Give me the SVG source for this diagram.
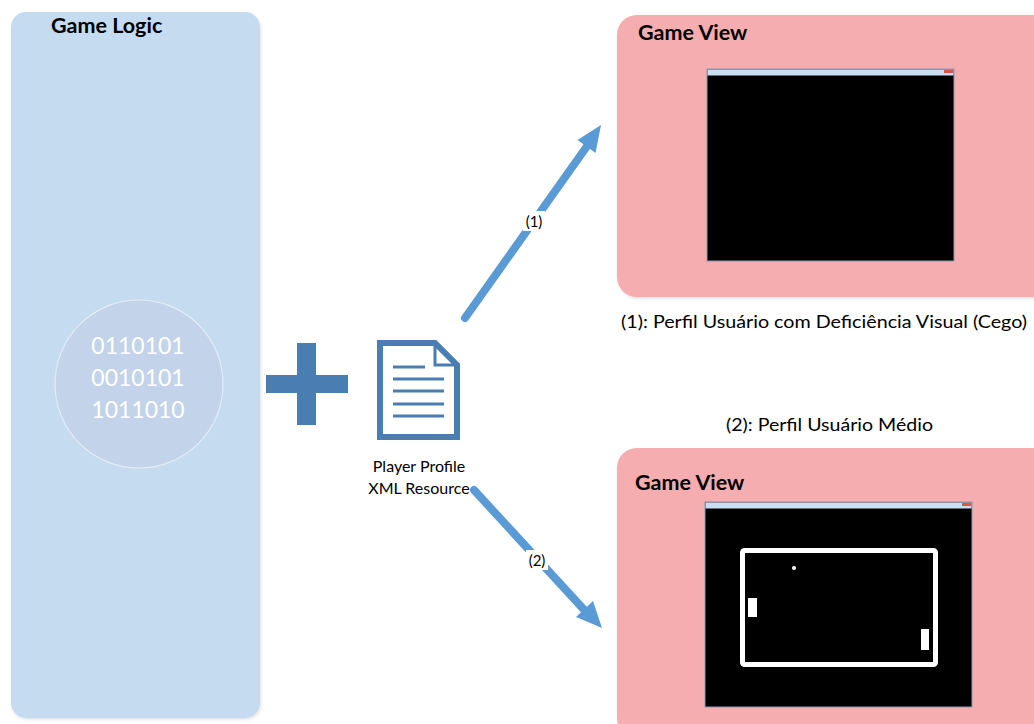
<svg xmlns="http://www.w3.org/2000/svg" width="1034" height="724" viewBox="0 0 1034 724">
  <style>
    .title { font-family: Lato, "Liberation Sans", sans-serif; font-weight: bold; font-size: 21.5px; fill: #000; }
    .bits { font-family: Lato, "Liberation Sans", sans-serif; font-size: 23px; fill: #ffffff; text-anchor: middle; }
    .label { font-family: Lato, "Liberation Sans", sans-serif; font-size: 16px; fill: #000; text-anchor: middle; }
    .tag { font-family: Lato, "Liberation Sans", sans-serif; font-size: 15px; fill: #000; text-anchor: middle; }
    .caption { font-family: Lato, "Liberation Sans", sans-serif; font-size: 18px; fill: #000; }
    .conn { stroke: #5b9bd5; stroke-width: 8; stroke-linecap: round; fill: none; }
    .head { fill: #5b9bd5; }
    .icon { fill: #4a7eb3; }
    .screen { fill: #000; stroke: #8a9ab0; stroke-width: 1; }
    .bar { fill: #c9def3; }
    .court { fill: #fff; }
  </style>
  <defs>
    <filter id="shadow" x="-5%" y="-5%" width="110%" height="110%">
      <feDropShadow dx="1" dy="1.5" stdDeviation="1.5" flood-color="#000" flood-opacity="0.12"/>
    </filter>
  </defs>

  <rect width="1034" height="724" fill="#ffffff"/>

  <!-- Game logic panel -->
  <g id="game-logic">
    <rect x="11" y="12" width="249" height="706" rx="15" fill="#c5dbef" filter="url(#shadow)"/>
    <text class="title" x="51" y="33">Game Logic</text>
    <circle cx="139" cy="384" r="84" fill="#c3d3ea" stroke="#e4ecf6" stroke-width="1.2"/>
    <text class="bits" x="138" y="354">0110101</text>
    <text class="bits" x="138" y="386">0010101</text>
    <text class="bits" x="138" y="418">1011010</text>
  </g>

  <!-- Plus sign -->
  <g id="plus">
    <rect class="icon" x="266" y="375" width="82" height="18"/>
    <rect class="icon" x="297" y="343" width="19" height="82"/>
  </g>

  <!-- Player profile document -->
  <g id="player-profile">
    <path d="M380 343 H435 L457 365 V437 H380 Z" fill="#fff" stroke="#4a7eb3" stroke-width="6" stroke-linejoin="miter"/>
    <path d="M435 343 V365 H457" fill="none" stroke="#4a7eb3" stroke-width="3"/>
    <g stroke="#4a7eb3" stroke-width="3">
      <line x1="393" y1="367" x2="425" y2="367"/>
      <line x1="393" y1="379" x2="444" y2="379"/>
      <line x1="393" y1="391" x2="444" y2="391"/>
      <line x1="393" y1="404" x2="444" y2="404"/>
      <line x1="393" y1="416" x2="444" y2="416"/>
    </g>
    <text class="label" x="419" y="472">Player Profile</text>
    <text class="label" x="419" y="494">XML Resource</text>
  </g>

  <!-- Game view, blind profile -->
  <g id="game-view-1">
    <rect x="617" y="15" width="440" height="282" rx="20" fill="#f5adb0" filter="url(#shadow)"/>
    <text class="title" x="638" y="40">Game View</text>
    <rect class="screen" x="707" y="69" width="247" height="192"/>
    <rect class="bar" x="707.5" y="69.5" width="246" height="6"/>
    <rect x="944" y="70" width="9" height="3" fill="#d9534f"/>
  </g>

  <!-- Game view, average profile -->
  <g id="game-view-2">
    <rect x="617" y="448" width="440" height="290" rx="20" fill="#f5adb0" filter="url(#shadow)"/>
    <text class="title" x="635" y="490">Game View</text>
    <rect class="screen" x="705" y="502" width="267" height="205"/>
    <rect class="bar" x="705.5" y="502.5" width="266" height="6"/>
    <rect x="962" y="503" width="9" height="3" fill="#d9534f"/>
    <rect x="742.5" y="550.5" width="193" height="114" rx="2" fill="none" stroke="#fff" stroke-width="5"/>
    <rect class="court" x="748" y="598" width="9" height="19"/>
    <rect class="court" x="921" y="629" width="8" height="21"/>
    <circle class="court" cx="794" cy="568" r="2"/>
  </g>

  <!-- Connectors -->
  <g id="connectors">
    <line class="conn" x1="465" y1="318" x2="590" y2="142"/>
    <polygon class="head" points="601,125 595.5,153 577.5,140"/>
    <rect x="523" y="211" width="22" height="20" fill="#fff"/>
    <text class="tag" x="534" y="227">(1)</text>

    <line class="conn" x1="474" y1="490" x2="588" y2="614"/>
    <polygon class="head" points="602,628 576,617 593,601"/>
    <rect x="526" y="550" width="22" height="20" fill="#fff"/>
    <text class="tag" x="537" y="566">(2)</text>
  </g>

  <!-- Profile captions -->
  <g id="captions">
    <text class="caption" x="621" y="328" textLength="406" lengthAdjust="spacingAndGlyphs">(1): Perfil Usuário com Deficiência Visual (Cego)</text>
    <text class="caption" x="726" y="431" textLength="207" lengthAdjust="spacingAndGlyphs">(2): Perfil Usuário Médio</text>
  </g>
</svg>
